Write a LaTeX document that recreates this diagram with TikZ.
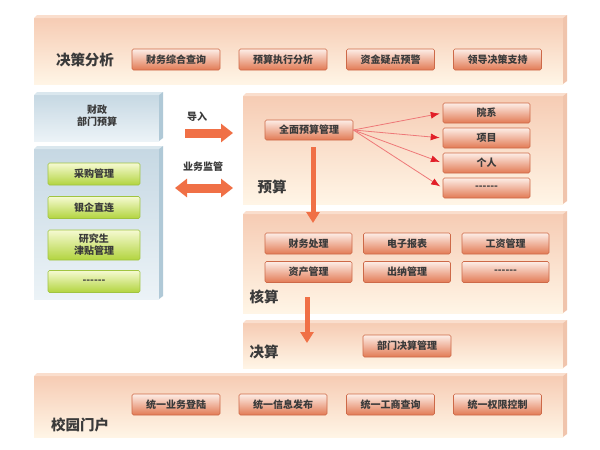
\documentclass[tikz,border=0pt]{standalone}
\usepackage{fontspec}
\setmainfont{Noto Sans CJK SC}
\usetikzlibrary{arrows.meta}
\definecolor{opTop}{RGB}{246,204,180}
\definecolor{opBot}{RGB}{255,245,230}
\definecolor{opBev}{RGB}{250,222,205}
\definecolor{opSide}{RGB}{240,196,172}
\definecolor{bpTop}{RGB}{198,216,227}
\definecolor{bpBot}{RGB}{236,243,247}
\definecolor{bpBev}{RGB}{218,231,238}
\definecolor{bpSide}{RGB}{176,201,215}
\definecolor{obTop}{RGB}{253,238,231}
\definecolor{obBot}{RGB}{226,122,84}
\definecolor{obLine}{RGB}{205,105,72}
\definecolor{gbTop}{RGB}{246,250,210}
\definecolor{gbBot}{RGB}{178,212,62}
\definecolor{gbLine}{RGB}{160,196,64}
\definecolor{txt}{RGB}{58,58,58}
\definecolor{arr}{RGB}{240,112,70}
\definecolor{redarr}{RGB}{226,30,40}
\definecolor{redln}{RGB}{238,120,120}
\newcommand\mypanel[5]{%
  \shade[#5face] (#1,#2+3) rectangle (#3-4,#4);
  \fill[#5top] (#1,#2+3) -- (#1+3,#2) -- (#3,#2) -- (#3-4,#2+3) -- cycle;
  \fill[#5side] (#3-4,#2+3) -- (#3,#2) -- (#3,#4-3) -- (#3-4,#4) -- cycle;
}
\newcommand\mydashes{-{}-{}-{}-{}-{}-}
\tikzset{
  oface/.style={top color=opTop, bottom color=opBot},
  otop/.style={fill=opBev},
  oside/.style={fill=opSide},
  bface/.style={top color=bpTop, bottom color=bpBot},
  btop/.style={fill=bpBev},
  bside/.style={fill=bpSide},
  obtn/.style={draw=obLine, line width=0.6pt, top color=obTop, bottom color=obBot,
    rounded corners=1.5pt, minimum width=88pt, minimum height=21pt, inner sep=1pt,
    text=txt, font=\bfseries\fontsize{10}{12}\selectfont},
  gbtn/.style={draw=gbLine, line width=0.6pt, top color=gbTop, bottom color=gbBot,
    rounded corners=1.5pt, minimum width=92pt, minimum height=22pt, inner sep=1pt,
    text=txt, align=center, font=\bfseries\fontsize{10}{12}\selectfont},
  seclabel/.style={text=txt, font=\bfseries\fontsize{14.5}{16}\selectfont},
  smalllabel/.style={text=txt, align=center, font=\bfseries\fontsize{10}{12}\selectfont},
  blockarrow/.style={draw=arr, line width=9pt, -{Triangle[length=12pt,width=18pt]}},
  blockarrow2/.style={draw=arr, line width=9pt, {Triangle[length=12pt,width=18pt]}-{Triangle[length=12pt,width=18pt]}},
  downarrow/.style={draw=arr, line width=5pt, -{Triangle[length=11pt,width=13pt]}},
  redline/.style={draw=redln, line width=0.8pt, -{Latex[length=9pt,width=7pt,color=redarr]}, shorten >=3pt}
}
\begin{document}
\begin{tikzpicture}[x=1pt,y=-1pt]
\useasboundingbox[fill=white] (0,0) rectangle (600,450);
% panels
\mypanel{34}{15}{567}{84}{o}
\mypanel{34}{92}{163}{141}{b}
\mypanel{34}{146}{163}{299}{b}
\mypanel{243}{93}{567}{204}{o}
\mypanel{243}{211}{567}{313}{o}
\mypanel{243}{320}{567}{368}{o}
\mypanel{34}{373}{567}{437}{o}
% top row
\node[seclabel] (l1) at (85,60) {决策分析};
\node[obtn] (t1) at (176,59.5) {财务综合查询};
\node[obtn] (t2) at (283,59.5) {预算执行分析};
\node[obtn] (t3) at (390.5,59.5) {资金疑点预警};
\node[obtn] (t4) at (497.5,59.5) {领导决策支持};
% left column
\node[smalllabel] (cz) at (97,116) {财政\\部门预算};
\node[gbtn] (g1) at (94,174) {采购管理};
\node[gbtn] (g2) at (94,207.5) {银企直连};
\node[gbtn, minimum height=30pt] (g3) at (94,245) {研究生\\津贴管理};
\node[gbtn] (g4) at (94,281.5) {\mydashes};
% middle arrows
\node[smalllabel] (dr) at (197,117) {导入};
\node[smalllabel] (yw) at (203,167) {业务监管};
\coordinate (a1s) at (185,133);
\coordinate (a1e) at (233,133);
\draw[blockarrow] (a1s) -- (a1e);
\coordinate (a2s) at (175,188);
\coordinate (a2e) at (233,188);
\draw[blockarrow2] (a2s) -- (a2e);
% 预算
\node[obtn, minimum height=20pt] (qm) at (309,130) {全面预算管理};
\node[obtn, minimum width=87pt, minimum height=20pt] (r1) at (486.5,113) {院系};
\node[obtn, minimum width=87pt, minimum height=20pt] (r2) at (486.5,138) {项目};
\node[obtn, minimum width=87pt, minimum height=20pt] (r3) at (486.5,163) {个人};
\node[obtn, minimum width=87pt, minimum height=20pt] (r4) at (486.5,188) {\mydashes};
\node[seclabel] (l2) at (272,187) {预算};
\foreach \r in {r1,r2,r3,r4}{\draw[redline] (qm.east) -- (\r.west);}
\coordinate (v1s) at (313,147);
\coordinate (v1e) at (313,223);
\draw[downarrow] (v1s) -- (v1e);
% 核算
\node[obtn, minimum width=87pt] (h1) at (308.5,243.5) {财务处理};
\node[obtn, minimum width=87pt] (h2) at (407,243.5) {电子报表};
\node[obtn, minimum width=87pt] (h3) at (505.5,243.5) {工资管理};
\node[obtn, minimum width=87pt] (h4) at (308.5,272) {资产管理};
\node[obtn, minimum width=87pt] (h5) at (407,272) {出纳管理};
\node[obtn, minimum width=87pt] (h6) at (505.5,272) {\mydashes};
\node[seclabel] (l3) at (264,297) {核算};
\coordinate (v2s) at (307,297);
\coordinate (v2e) at (307,343);
\draw[downarrow] (v2s) -- (v2e);
% 决算
\node[obtn, minimum height=22pt] (js) at (407,346) {部门决算管理};
\node[seclabel] (l4) at (264,352) {决算};
% bottom
\node[seclabel] (l5) at (80,425) {校园门户};
\node[obtn] (b1) at (176,404.5) {统一业务登陆};
\node[obtn] (b2) at (283,404.5) {统一信息发布};
\node[obtn] (b3) at (390.5,404.5) {统一工商查询};
\node[obtn] (b4) at (497.5,404.5) {统一权限控制};
\end{tikzpicture}
\end{document}
